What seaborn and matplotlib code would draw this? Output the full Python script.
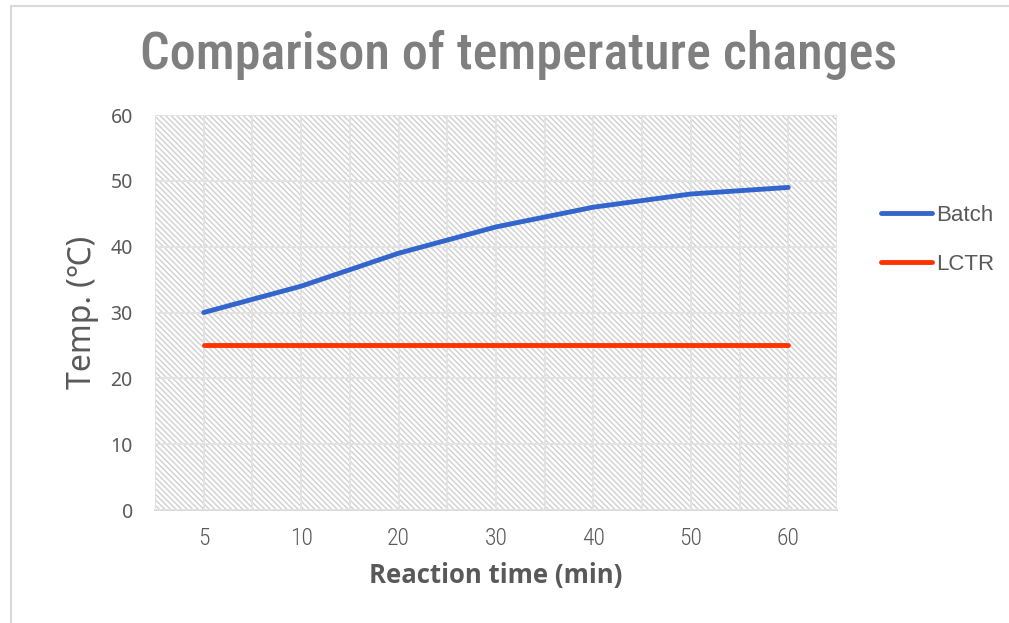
import matplotlib
matplotlib.use("Agg")
import matplotlib.pyplot as plt
from matplotlib.patches import Rectangle
from matplotlib.ticker import FixedLocator
import seaborn as sns
import pandas as pd

# Reaction time categories and measured temperatures
times = ["5", "10", "20", "30", "40", "50", "60"]
batch_temp = [30, 34, 39, 43, 46, 48, 49]
lctr_temp = [25, 25, 25, 25, 25, 25, 25]
series_names = ["Batch", "LCTR"]
y_ticks = [0, 10, 20, 30, 40, 50, 60]

df = pd.DataFrame({
    "time": times * 2,
    "temp": batch_temp + lctr_temp,
    "series": [series_names[0]] * len(times) + [series_names[1]] * len(times),
})

sns.set_theme(style="white")
plt.rcParams["font.family"] = ["Noto Sans", "DejaVu Sans"]
plt.rcParams["hatch.color"] = "#d0d0d0"
plt.rcParams["hatch.linewidth"] = 1.0

W, H = 1009, 623
fig = plt.figure(figsize=(W / 100, H / 100), dpi=100)
ax = fig.add_axes([155 / W, 1 - 510 / H, (837 - 155) / W, (510 - 115) / H])

# outer chart frame
fig.patches.append(Rectangle((11 / W, -0.1), 1.2, 1 - 6 / H + 0.1,
                             transform=fig.transFigure, fill=False,
                             edgecolor="#d9d9d9", linewidth=1.5, zorder=-5))

# hatched plot area
ax.add_patch(Rectangle((0, 0), 1, 1, transform=ax.transAxes, facecolor="white",
                       edgecolor="#d0d0d0", hatch="\\" * 6, linewidth=0, zorder=0))

palette = {"Batch": "#3366cc", "LCTR": "#ff3300"}
sns.lineplot(data=df, x="time", y="temp", hue="series", palette=palette,
             linewidth=3.5, ax=ax, zorder=3, legend=False, sort=False)

ax.set_xlim(-0.5, len(times) - 0.5)
ax.set_ylim(0, 60)
ax.yaxis.set_major_locator(FixedLocator(y_ticks))
ax.xaxis.set_minor_locator(FixedLocator([i + 0.5 for i in range(-1, len(times))]))

ax.grid(True, which="major", axis="both", color="#e3e3e3", linewidth=1.4, zorder=1)
ax.grid(True, which="minor", axis="x", color="#e3e3e3", linewidth=1.4, zorder=1)
ax.set_axisbelow(False)
for side in ["top", "right", "left"]:
    ax.spines[side].set_visible(False)
ax.spines["bottom"].set_color("#d9d9d9")
ax.spines["bottom"].set_linewidth(1.4)

ax.tick_params(axis="both", length=0, colors="#595959")
ax.tick_params(axis="y", labelsize=14, pad=16)
ax.tick_params(axis="x", labelsize=17, pad=12)
for lbl in ax.get_xticklabels():
    lbl.set_family(["Roboto Condensed", "DejaVu Sans"])
    lbl.set_fontweight(300)

ax.set_xlabel("Reaction time (min)", fontsize=18.5, fontweight="bold",
              color="#595959", labelpad=9, family=["Open Sans", "DejaVu Sans"])
ax.set_ylabel("Temp. (℃)", fontsize=23, color="#595959", labelpad=8)

fig.text(519 / W, 1 - 55 / H, "Comparison of temperature changes",
         ha="center", va="center", fontsize=37.5, fontweight=500,
         color="#7f7f7f", family=["Roboto Condensed", "DejaVu Sans"])

# legend
handles = [plt.Line2D([], [], color=palette[s], linewidth=3.5) for s in series_names]
fig.legend(handles, series_names, loc="upper left",
           bbox_to_anchor=(863 / W, 1 - 187 / H), frameon=False,
           prop={"family": ["Liberation Sans", "DejaVu Sans"], "size": 16},
           labelcolor="#595959", handlelength=2.3,
           handletextpad=0.2, labelspacing=1.25, borderpad=0.3)

fig.savefig("out.png", dpi=100)
